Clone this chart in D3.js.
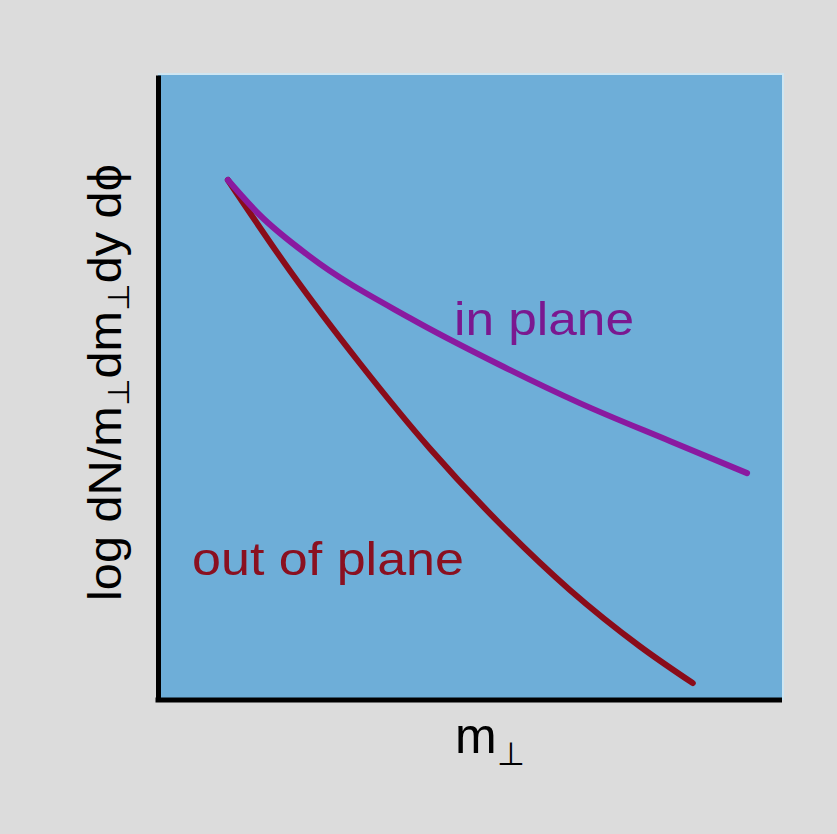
<!DOCTYPE html>
<html>
<head>
<meta charset="utf-8">
<script src="https://cdn.jsdelivr.net/npm/d3@7"></script>
<style>
  html, body { margin: 0; padding: 0; background: #dcdcdc; }
  svg { display: block; }
  text { font-family: "Liberation Sans", Arial, Helvetica, sans-serif; }
</style>
</head>
<body>
<svg id="chart" width="837" height="834"></svg>
<script>
// Schematic transverse-mass spectra (arbitrary units, log scale on y)
const inPlaneX  = [1.12, 1.63, 2.44, 4.04, 5.48, 6.76, 8.21, 9.44];
const inPlaneY  = [8.32, 7.76, 7.09, 6.11, 5.36, 4.75, 4.14, 3.63];
const outPlaneX = [1.12, 2.12, 3.24, 4.36, 5.48, 6.60, 7.72, 8.57];
const outPlaneY = [8.32, 6.86, 5.38, 4.02, 2.82, 1.76, 0.86, 0.27];
const seriesNames = ["in plane", "out of plane"];

const svg = d3.select("#chart");
const W = 837, H = 834;
svg.append("rect").attr("width", W).attr("height", H).attr("fill", "#dcdcdc");

const plot = { left: 158, right: 782, top: 75, bottom: 700 };
const x = d3.scaleLinear().domain([0, 10]).range([plot.left, plot.right]);
const y = d3.scaleLinear().domain([0, 10]).range([plot.bottom, plot.top]);

// plot panel
svg.append("rect")
  .attr("x", plot.left).attr("y", plot.top)
  .attr("width", plot.right - plot.left).attr("height", plot.bottom - plot.top)
  .attr("fill", "#6eaed8");
// faint highlight along the top and right edges of the panel
svg.append("path")
  .attr("d", `M${plot.left},${plot.top - 1}H${plot.right + 1}V${plot.bottom}`)
  .attr("fill", "none").attr("stroke", "#cfe6f2").attr("stroke-width", 2);

// axes without ticks
const axisLeft = d3.axisLeft(y).tickValues([]).tickSizeOuter(0);
const axisBottom = d3.axisBottom(x).tickValues([]).tickSizeOuter(0);
svg.append("g").attr("transform", `translate(${plot.left},0)`).call(axisLeft)
  .select(".domain").attr("stroke", "#000").attr("stroke-width", 5);
svg.append("g").attr("transform", `translate(0,${plot.bottom})`).call(axisBottom)
  .select(".domain").attr("stroke", "#000").attr("stroke-width", 5)
  .attr("d", `M${plot.left - 2.5},0H${plot.right}`);

// curves (out of plane underneath, in plane on top)
const line = d3.line().x(d => x(d[0])).y(d => y(d[1])).curve(d3.curveMonotoneX);
const series = [
  { name: seriesNames[1], pts: d3.zip(outPlaneX, outPlaneY), color: "#8a0c1a" },
  { name: seriesNames[0], pts: d3.zip(inPlaneX, inPlaneY), color: "#8a1aa0" }
];
svg.selectAll("path.curve").data(series).join("path")
  .attr("class", "curve")
  .attr("d", d => line(d.pts))
  .attr("fill", "none")
  .attr("stroke", d => d.color)
  .attr("stroke-width", 6)
  .attr("stroke-linecap", "round");

// curve labels
svg.append("text").attr("x", 454).attr("y", 335)
  .attr("font-size", 46).attr("fill", "#7a1890")
  .attr("textLength", 180).attr("lengthAdjust", "spacingAndGlyphs")
  .text(seriesNames[0]);
svg.append("text").attr("x", 192).attr("y", 575)
  .attr("font-size", 46).attr("fill", "#8a1020")
  .attr("textLength", 272).attr("lengthAdjust", "spacingAndGlyphs")
  .text(seriesNames[1]);

// x-axis title: m⊥
const xt = svg.append("text").attr("x", 455).attr("y", 753)
  .attr("font-size", 50).attr("fill", "#000");
xt.append("tspan").text("m");
xt.append("tspan").attr("font-size", 32).attr("dy", 12).text("⊥");

// y-axis title: log dN/m⊥dm⊥dy dϕ
const yt = svg.append("text")
  .attr("transform", "translate(121,601) rotate(-90)")
  .attr("font-size", 46).attr("fill", "#000")
  .attr("textLength", 437).attr("lengthAdjust", "spacingAndGlyphs");
yt.append("tspan").text("log dN/m");
yt.append("tspan").attr("font-size", 30).attr("dy", 8).text("⊥");
yt.append("tspan").attr("dy", -8).text("dm");
yt.append("tspan").attr("font-size", 30).attr("dy", 8).text("⊥");
yt.append("tspan").attr("dy", -8).text("dy dϕ");
</script>
</body>
</html>
